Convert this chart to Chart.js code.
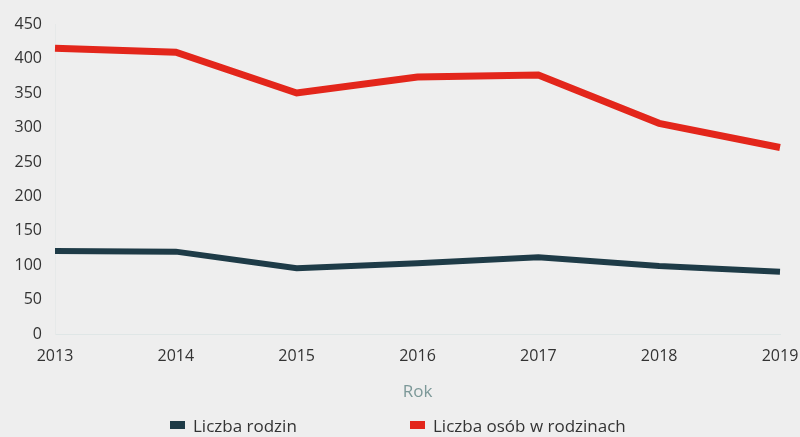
<!DOCTYPE html>
<html>
<head>
<meta charset="utf-8">
<script src="https://cdn.jsdelivr.net/npm/chart.js@4"></script>
<style>
  html, body { margin: 0; padding: 0; background: #eeeeee; }
  #wrap { position: relative; width: 800px; height: 437px; }
  #legend {
    position: absolute; left: 0; top: 414px; width: 800px;
    font-family: "Open Sans", sans-serif; font-size: 17px; color: #333;
  }
  .item { position: absolute; top: 0; white-space: nowrap; }
  .box { display: inline-block; width: 15px; height: 8px; margin-right: 8px; vertical-align: 3px; }
</style>
</head>
<body>
<div id="wrap">
  <canvas id="myChart" width="800" height="437"></canvas>
  <div id="legend"></div>
</div>
<script>
const years = ["2013", "2014", "2015", "2016", "2017", "2018", "2019"];
const families = [121, 120, 96, 103, 112, 99, 91];
const people = [415, 409, 350, 373, 376, 306, 271];
const yTicks = [0, 50, 100, 150, 200, 250, 300, 350, 400, 450];

const seriesNames = ["Liczba rodzin", "Liczba osób w rodzinach"];
const colors = ["#1e3b47", "#e3261b"];

const ctx = document.getElementById("myChart");
const myChart = new Chart(ctx, {
  type: "line",
  data: {
    labels: years,
    datasets: [
      {
        label: seriesNames[0],
        data: families,
        borderColor: colors[0],
        backgroundColor: colors[0],
        borderWidth: 6,
        pointRadius: 0,
        tension: 0,
      },
      {
        label: seriesNames[1],
        data: people,
        borderColor: colors[1],
        backgroundColor: colors[1],
        borderWidth: 7,
        pointRadius: 0,
        tension: 0,
      },
    ],
  },
  options: {
    responsive: false,
    animation: false,
    layout: { padding: { top: 24, right: 0, bottom: 35, left: 0 } },
    plugins: {
      legend: { display: false },
      tooltip: { enabled: false },
    },
    scales: {
      x: {
        afterFit: (axis) => { axis.paddingRight = 20; },
        grid: { display: false, drawTicks: false },
        border: { color: "#dfe6e6" },
        ticks: {
          padding: 12,
          color: "#333",
          font: { family: "Open Sans", size: 16 },
          maxRotation: 0,
        },
        title: {
          display: true,
          text: "Rok",
          color: "#7c9898",
          font: { family: "Open Sans", size: 17 },
          padding: { top: 4, bottom: 0 },
        },
      },
      y: {
        min: 0,
        max: 450,
        afterFit: (axis) => { axis.width = 55; },
        afterBuildTicks: (axis) => { axis.ticks = yTicks.map((v) => ({ value: v })); },
        grid: { display: false, drawTicks: false },
        border: { color: "#e6e9e9" },
        ticks: {
          padding: 13,
          color: "#333",
          font: { family: "Open Sans", size: 16 },
        },
      },
    },
  },
});

// html legend, spaced like the original
const legend = document.getElementById("legend");
const lefts = [170, 410];
seriesNames.forEach((name, i) => {
  const el = document.createElement("span");
  el.className = "item";
  el.style.left = lefts[i] + "px";
  el.innerHTML = '<span class="box" style="background:' + colors[i] + '"></span>' + name;
  legend.appendChild(el);
});
</script>
</body>
</html>
